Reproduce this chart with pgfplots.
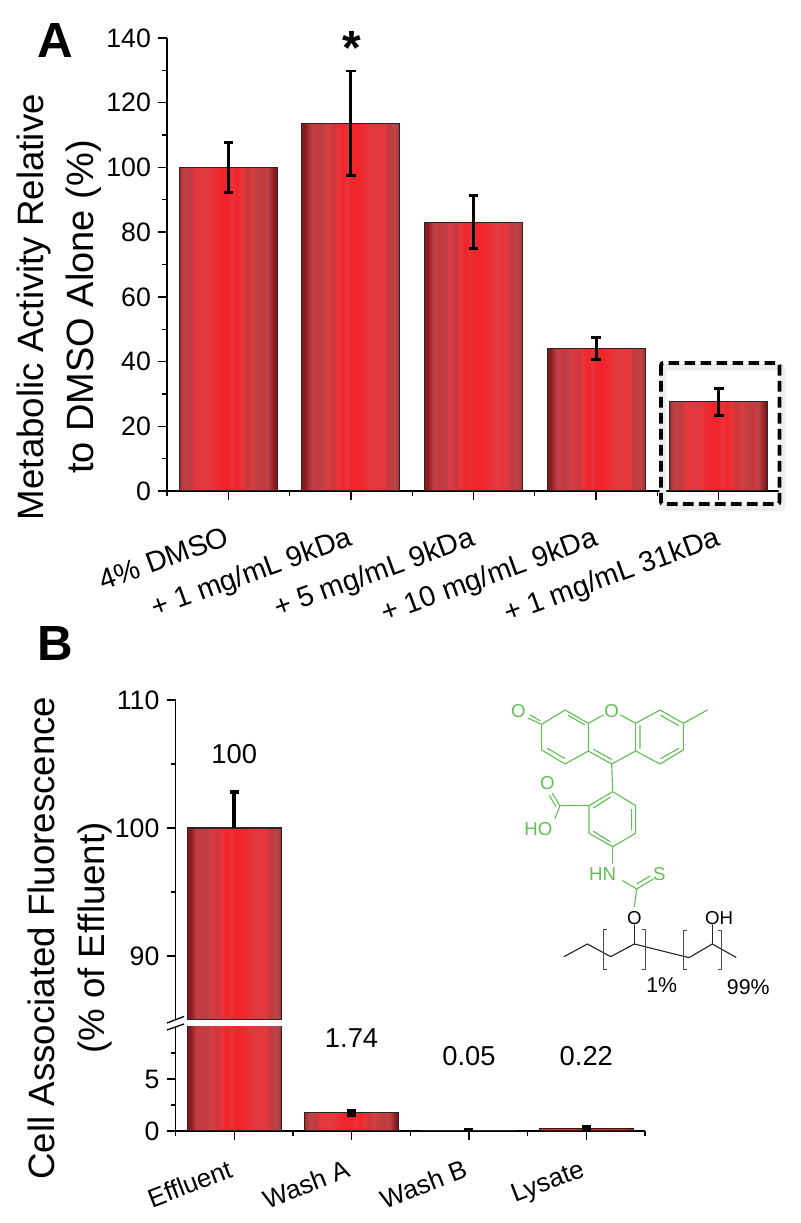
\documentclass[border=0pt]{standalone}
\usepackage{fontspec}
\setmainfont{Liberation Sans}
\usepackage{pgfplots}
\pgfplotsset{compat=1.18}

% striped bar colours, dark edge to bright centre
\definecolor{ra}{HTML}{861A1E}
\definecolor{rb}{HTML}{A32C30}
\definecolor{rc}{HTML}{BC4246}
\definecolor{rd}{HTML}{C6373C}
\definecolor{re}{HTML}{DD3B40}
\definecolor{rf}{HTML}{E8343A}
\definecolor{rg}{HTML}{F0252B}
\definecolor{rh}{HTML}{EE2C32}
\definecolor{fgreen}{HTML}{62BF55}

\pgfdeclarehorizontalshading{darkleft}{100bp}{
  color(0bp)=(ra); color(25bp)=(ra); color(26.5bp)=(ra); color(28bp)=(rb); color(30bp)=(rc);
  color(33bp)=(rd); color(36bp)=(rc); color(38bp)=(re); color(41bp)=(rd); color(43bp)=(rf);
  color(46bp)=(rg); color(48bp)=(rf); color(50bp)=(rg); color(54bp)=(rg); color(56bp)=(rh);
  color(59bp)=(rf); color(62bp)=(re); color(65bp)=(rf); color(67bp)=(re); color(69bp)=(rd);
  color(71bp)=(rc); color(73bp)=(rc); color(75bp)=(rb); color(100bp)=(rb)}
\pgfdeclarehorizontalshading{darkright}{100bp}{
  color(0bp)=(rb); color(25bp)=(rb); color(27bp)=(rc); color(29bp)=(rc); color(31bp)=(rd);
  color(33bp)=(re); color(35bp)=(rf); color(38bp)=(re); color(41bp)=(rf); color(44bp)=(rh);
  color(46bp)=(rg); color(50bp)=(rg); color(52bp)=(rf); color(54bp)=(rg); color(57bp)=(rf);
  color(59bp)=(rd); color(62bp)=(re); color(64bp)=(rc); color(67bp)=(rd); color(70bp)=(rc);
  color(72bp)=(rb); color(73.5bp)=(ra); color(75bp)=(ra); color(100bp)=(ra)}

\pgfplotsset{
  panel/.style={
    scale only axis,
    axis x line=bottom,
    axis y line=left,
    axis line style={-,line width=1pt,black},
    tick style={black,line width=1pt},
    tick align=outside,
    major tick length=6.75pt,
    minor tick length=3.75pt,
    clip mode=individual,
    ticklabel style={font=\fontsize{20}{24}\selectfont},
    yticklabel style={xshift=-1.8pt},
    /pgf/number format/assume math mode=true,
    ybar,
    bar width=0.8,
    bar shift=0pt,
  },
  redbar/.style={
    ybar,bar width=0.8,bar shift=0pt,
    draw=black!85,line width=0.8pt,shade,shading=#1,
    error bars/.cd,y dir=both,y explicit,
    error bar style={line width=2.2pt,black},
    error mark options={rotate=90,mark size=3.6pt,line width=2.2pt,black},
    /pgfplots/.cd,
  },
  thickerr/.style={
    error bars/.cd,
    error bar style={line width=3.2pt,black},
    error mark options={rotate=90,mark size=3.4pt,line width=3.4pt,black},
    /pgfplots/.cd,
  },
}

\begin{document}
\begin{tikzpicture}
\useasboundingbox (0,0) rectangle (600pt,917.25pt);

% panel A
\begin{axis}[panel,
  at={(125.25pt,549pt)},anchor=south west,
  width=459.75pt,height=339.75pt,
  xmin=-0.5,xmax=4.5,ymin=0,ymax=140,
  ytick={0,20,...,140},minor ytick={10,30,...,130},
  xtick={0,1,2,3,4},minor xtick={-0.5,0.5,1.5,2.5,3.5,4.5},
  xticklabels={4\% DMSO\hspace{14pt},+ 1 mg/mL 9kDa,+ 5 mg/mL 9kDa,+ 10 mg/mL 9kDa,+ 1 mg/mL 31kDa},
  xticklabel style={rotate=20,anchor=north east,font=\fontsize{21.5}{25}\selectfont,xshift=-6pt,yshift=-13.5pt},
  ylabel={Metabolic Activity Relative\\{\fontsize{28.5}{38}\selectfont to DMSO Alone (\%)}},
  ylabel style={at={(axis description cs:-0.176,0.406)},anchor=center,align=center,font=\fontsize{27.5}{38}\selectfont},
]
\addplot[redbar=darkright] coordinates {(0,100) +- (0,7.7)};
\addplot[redbar=darkleft] coordinates {(1,113.7) +- (0,16.1)};
\addplot[redbar=darkleft] coordinates {(2,83.1) +- (0,8.1)};
\addplot[redbar=darkleft] coordinates {(3,44) +- (0,3.5)};
\addplot[redbar=darkright] coordinates {(4,27.6) +- (0,4.2)};
\end{axis}

% panel B, upper part of the broken axis
\begin{axis}[panel,
  at={(131.625pt,152.25pt)},anchor=south west,
  width=352.125pt,height=240pt,
  axis x line=none,
  xmin=-0.5,xmax=3.5,ymin=85,ymax=110,
  ytick={90,100,110},minor ytick={95,105},
  ylabel={Cell Associated Fluorescence\\(\% of Effluent)},
  ylabel style={at={(axis description cs:-0.2247,0.256)},anchor=center,align=center,font=\fontsize{27.5}{38}\selectfont},
]
\addplot[redbar=darkleft,thickerr,error bars/y dir=plus] coordinates {(0,100) +- (0,2.8)};
\node[font=\fontsize{20.5}{24}\selectfont] at (axis cs:0,105.8) {100};
\end{axis}

% panel B, lower part
\begin{axis}[panel,
  at={(131.625pt,69pt)},anchor=south west,
  width=352.125pt,height=78pt,
  xmin=-0.5,xmax=3.5,ymin=0,ymax=10,
  ytick={0,5},minor ytick={2.5,7.5},
  xtick={0,1,2,3},minor xtick={-0.5,0.5,1.5,2.5,3.5},
  xticklabels={Effluent,Wash A,Wash B,Lysate},
  xticklabel style={rotate=21,anchor=north east,font=\fontsize{19.5}{22}\selectfont,xshift=-6.5pt,yshift=-8pt},
]
\addplot[redbar=darkleft] coordinates {(0,100)};
\addplot[redbar=darkright,thickerr] coordinates {(1,1.74) +- (0,0.15)};
\addplot[redbar=darkright,thickerr] coordinates {(2,0.05) +- (0,0.05)};
\addplot[redbar=darkright,thickerr,draw=ra!55!black] coordinates {(3,0.22) +- (0,0.1)};
\node[font=\fontsize{20.5}{24}\selectfont] at (axis cs:1,8.9) {1.74};
\node[font=\fontsize{20.5}{24}\selectfont] at (axis cs:2,7.2) {0.05};
\node[font=\fontsize{20.5}{24}\selectfont] at (axis cs:3,7.2) {0.22};
\end{axis}

% annotations, coordinates in reference pixels
\begin{scope}[x=0.75pt,y=-0.75pt,yshift=917.25pt]
\node[font=\fontsize{37}{40}\bfseries\selectfont] at (55,41) {A};
\node[font=\fontsize{37}{40}\bfseries\selectfont] at (55,644) {B};
\node[font=\fontsize{36}{40}\bfseries\selectfont] at (352,48) {*};
\draw[black!7,line width=5pt,rounded corners=2pt] (663,367) rectangle (782,508);
\draw[black,line width=2.8pt,dash pattern=on 8pt off 4pt,rounded corners=1.5pt] (661,363) rectangle (779.5,504);
% axis break marks
\draw[line width=1pt] (167,1023) -- (184,1016.5);
\draw[line width=1pt] (167,1030) -- (184,1024);
\end{scope}

% fluorescein-PVA sketch, coordinates in thirds of a pixel
\begin{scope}[x=0.25pt,y=-0.25pt,xshift=367.5pt,yshift=399.75pt,line width=0.85pt,line cap=round,line join=round]
\begin{scope}[draw=fgreen]
\draw (115,85)--(155,103)--(225,60)--(295,100)--(295,183)--(225,222)--(155,180)--(155,103);
\draw (120,75)--(150,92);
\draw (235,76)--(283,104) (172,175)--(224,205);
\draw (295,100)--(340,75) (392,75)--(437,100)--(437,183)--(365,222)--(295,183);
\draw (310,178)--(365,208) (450,107)--(450,175);
\draw (437,100)--(510,60)--(580,100)--(580,180)--(510,222)--(437,183);
\draw (512,76)--(566,107) (566,175)--(512,206);
\draw (580,100)--(652,60);
\draw (365,222)--(368,305);
\draw (368,305)--(437,347)--(437,430)--(368,470)--(297,430)--(297,347)--cycle;
\draw (425,358)--(425,420) (360,455)--(310,424) (310,354)--(360,322);
\draw (297,347)--(210,347)--(187,310) (198,350)--(178,316);
\draw (210,347)--(195,385);
\draw (368,470)--(368,520);
\draw (398,572)--(440,597)--(490,567) (440,582)--(480,558);
\draw (440,597)--(433,650);
\end{scope}
\begin{scope}[font=\fontsize{14}{16}\selectfont]
\node[text=fgreen] at (85,62) {O};
\node[text=fgreen] at (365,62) {O};
\node[text=fgreen] at (172,280) {O};
\node[text=fgreen] at (145,418) {HO};
\node[text=fgreen] at (338,553) {HN};
\node[text=fgreen] at (508,553) {S};
\node at (433,685) {O};
\node at (687,685) {OH};
\node[font=\fontsize{16}{18}\selectfont] at (515,885) {1\%};
\node[font=\fontsize{16}{18}\selectfont] at (775,890) {99\%};
\end{scope}
\draw[black!85] (222,800)--(292,762)--(362,800)--(433,762)--(597,803)--(667,762)--(738,802);
\draw[black!85] (433,762)--(433,705) (667,762)--(667,705);
\draw[black!70,line width=0.6pt] (350,717)--(340,717)--(340,838)--(350,838)
  (456,717)--(466,717)--(466,838)--(456,838)
  (590,722)--(580,722)--(580,838)--(590,838)
  (685,722)--(695,722)--(695,838)--(685,838);
\end{scope}
\end{tikzpicture}
\end{document}
